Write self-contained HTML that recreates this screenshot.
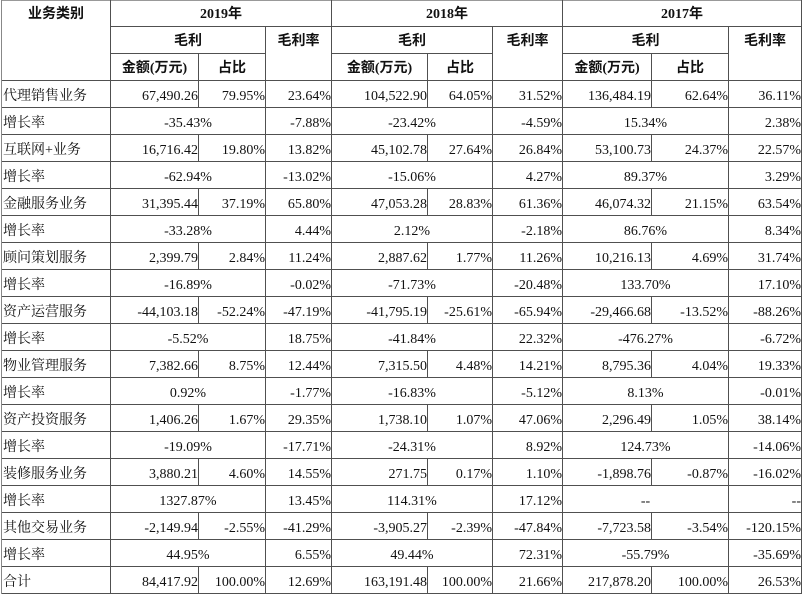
<!DOCTYPE html>
<html><head><meta charset="utf-8">
<style>
html,body{margin:0;padding:0;background:#fff;}
body{width:803px;height:594px;position:relative;overflow:hidden;font-family:"Liberation Serif","Noto Serif CJK SC",serif;font-size:14px;color:#111;}
.h{position:absolute;height:1px;background:#505050;}
.v{position:absolute;width:1px;background:#505050;}
.r{position:absolute;left:0;width:803px;height:26px;}
.r div{position:absolute;top:0;height:26px;line-height:31px;white-space:nowrap;text-align:right;}
.r .l{left:3px;width:105px;text-align:left;}
.r .c1{left:111px;width:87px;}
.r .c2{left:199px;width:66px;}
.r .c3{left:266px;width:65px;}
.r .c4{left:332px;width:95px;}
.r .c5{left:428px;width:64px;}
.r .c6{left:493px;width:69px;}
.r .c7{left:563px;width:88px;}
.r .c8{left:652px;width:76px;}
.r .c9{left:729px;width:72px;}
.r .g1{left:111px;width:154px;text-align:center;background:#fff;}
.r .g2{left:332px;width:160px;text-align:center;background:#fff;}
.r .g3{left:563px;width:165px;text-align:center;background:#fff;}
.hd{position:absolute;text-align:center;font-weight:700;font-family:"Liberation Serif","Noto Sans CJK SC",sans-serif;font-size:14px;line-height:30px;height:26px;white-space:nowrap;color:#111;}
</style></head><body>

<div class="h" style="top:0;left:1px;width:801px;background:#999"></div>
<div class="h" style="top:26px;left:110px;width:692px"></div>
<div class="h" style="top:53px;left:110px;width:156px"></div>
<div class="h" style="top:53px;left:331px;width:162px"></div>
<div class="h" style="top:53px;left:562px;width:167px"></div>
<div class="h" style="top:80px;left:1px;width:801px"></div>
<div class="h" style="top:107px;left:1px;width:801px"></div>
<div class="h" style="top:134px;left:1px;width:801px"></div>
<div class="h" style="top:161px;left:1px;width:801px"></div>
<div class="h" style="top:188px;left:1px;width:801px"></div>
<div class="h" style="top:215px;left:1px;width:801px"></div>
<div class="h" style="top:242px;left:1px;width:801px"></div>
<div class="h" style="top:269px;left:1px;width:801px"></div>
<div class="h" style="top:296px;left:1px;width:801px"></div>
<div class="h" style="top:323px;left:1px;width:801px"></div>
<div class="h" style="top:350px;left:1px;width:801px"></div>
<div class="h" style="top:377px;left:1px;width:801px"></div>
<div class="h" style="top:404px;left:1px;width:801px"></div>
<div class="h" style="top:431px;left:1px;width:801px"></div>
<div class="h" style="top:458px;left:1px;width:801px"></div>
<div class="h" style="top:485px;left:1px;width:801px"></div>
<div class="h" style="top:512px;left:1px;width:801px"></div>
<div class="h" style="top:539px;left:1px;width:801px"></div>
<div class="h" style="top:566px;left:1px;width:801px"></div>
<div class="h" style="top:593px;left:1px;width:801px"></div>

<div class="v" style="left:1px;top:0;height:594px;background:#888"></div>
<div class="v" style="left:110px;top:0;height:594px"></div>
<div class="v" style="left:198px;top:53px;height:541px"></div>
<div class="v" style="left:265px;top:26px;height:568px"></div>
<div class="v" style="left:331px;top:0;height:594px"></div>
<div class="v" style="left:427px;top:53px;height:541px"></div>
<div class="v" style="left:492px;top:26px;height:568px"></div>
<div class="v" style="left:562px;top:0;height:594px"></div>
<div class="v" style="left:651px;top:53px;height:541px"></div>
<div class="v" style="left:728px;top:26px;height:568px"></div>
<div class="v" style="left:801px;top:0;height:594px"></div>

<div class="hd" style="left:2px;top:0;width:108px">业务类别</div>
<div class="hd" style="left:111px;top:0;width:220px">2019年</div>
<div class="hd" style="left:332px;top:0;width:230px">2018年</div>
<div class="hd" style="left:563px;top:0;width:238px">2017年</div>

<div class="hd" style="left:111px;top:27px;width:154px">毛利</div>
<div class="hd" style="left:266px;top:27px;width:65px">毛利率</div>
<div class="hd" style="left:332px;top:27px;width:160px">毛利</div>
<div class="hd" style="left:493px;top:27px;width:69px">毛利率</div>
<div class="hd" style="left:563px;top:27px;width:165px">毛利</div>
<div class="hd" style="left:729px;top:27px;width:72px">毛利率</div>

<div class="hd" style="left:111px;top:54px;width:87px">金额(万元)</div>
<div class="hd" style="left:199px;top:54px;width:66px">占比</div>
<div class="hd" style="left:332px;top:54px;width:95px">金额(万元)</div>
<div class="hd" style="left:428px;top:54px;width:64px">占比</div>
<div class="hd" style="left:563px;top:54px;width:88px">金额(万元)</div>
<div class="hd" style="left:652px;top:54px;width:76px">占比</div>

<div class="r" style="top:81px"><div class="l">代理销售业务</div><div class="c1">67,490.26</div><div class="c2">79.95%</div><div class="c3">23.64%</div><div class="c4">104,522.90</div><div class="c5">64.05%</div><div class="c6">31.52%</div><div class="c7">136,484.19</div><div class="c8">62.64%</div><div class="c9">36.11%</div></div>
<div class="r" style="top:108px"><div class="l">增长率</div><div class="g1">-35.43%</div><div class="c3">-7.88%</div><div class="g2">-23.42%</div><div class="c6">-4.59%</div><div class="g3">15.34%</div><div class="c9">2.38%</div></div>

<div class="r" style="top:135px"><div class="l">互联网+业务</div><div class="c1">16,716.42</div><div class="c2">19.80%</div><div class="c3">13.82%</div><div class="c4">45,102.78</div><div class="c5">27.64%</div><div class="c6">26.84%</div><div class="c7">53,100.73</div><div class="c8">24.37%</div><div class="c9">22.57%</div></div>
<div class="r" style="top:162px"><div class="l">增长率</div><div class="g1">-62.94%</div><div class="c3">-13.02%</div><div class="g2">-15.06%</div><div class="c6">4.27%</div><div class="g3">89.37%</div><div class="c9">3.29%</div></div>

<div class="r" style="top:189px"><div class="l">金融服务业务</div><div class="c1">31,395.44</div><div class="c2">37.19%</div><div class="c3">65.80%</div><div class="c4">47,053.28</div><div class="c5">28.83%</div><div class="c6">61.36%</div><div class="c7">46,074.32</div><div class="c8">21.15%</div><div class="c9">63.54%</div></div>
<div class="r" style="top:216px"><div class="l">增长率</div><div class="g1">-33.28%</div><div class="c3">4.44%</div><div class="g2">2.12%</div><div class="c6">-2.18%</div><div class="g3">86.76%</div><div class="c9">8.34%</div></div>

<div class="r" style="top:243px"><div class="l">顾问策划服务</div><div class="c1">2,399.79</div><div class="c2">2.84%</div><div class="c3">11.24%</div><div class="c4">2,887.62</div><div class="c5">1.77%</div><div class="c6">11.26%</div><div class="c7">10,216.13</div><div class="c8">4.69%</div><div class="c9">31.74%</div></div>
<div class="r" style="top:270px"><div class="l">增长率</div><div class="g1">-16.89%</div><div class="c3">-0.02%</div><div class="g2">-71.73%</div><div class="c6">-20.48%</div><div class="g3">133.70%</div><div class="c9">17.10%</div></div>

<div class="r" style="top:297px"><div class="l">资产运营服务</div><div class="c1">-44,103.18</div><div class="c2">-52.24%</div><div class="c3">-47.19%</div><div class="c4">-41,795.19</div><div class="c5">-25.61%</div><div class="c6">-65.94%</div><div class="c7">-29,466.68</div><div class="c8">-13.52%</div><div class="c9">-88.26%</div></div>
<div class="r" style="top:324px"><div class="l">增长率</div><div class="g1">-5.52%</div><div class="c3">18.75%</div><div class="g2">-41.84%</div><div class="c6">22.32%</div><div class="g3">-476.27%</div><div class="c9">-6.72%</div></div>

<div class="r" style="top:351px"><div class="l">物业管理服务</div><div class="c1">7,382.66</div><div class="c2">8.75%</div><div class="c3">12.44%</div><div class="c4">7,315.50</div><div class="c5">4.48%</div><div class="c6">14.21%</div><div class="c7">8,795.36</div><div class="c8">4.04%</div><div class="c9">19.33%</div></div>
<div class="r" style="top:378px"><div class="l">增长率</div><div class="g1">0.92%</div><div class="c3">-1.77%</div><div class="g2">-16.83%</div><div class="c6">-5.12%</div><div class="g3">8.13%</div><div class="c9">-0.01%</div></div>

<div class="r" style="top:405px"><div class="l">资产投资服务</div><div class="c1">1,406.26</div><div class="c2">1.67%</div><div class="c3">29.35%</div><div class="c4">1,738.10</div><div class="c5">1.07%</div><div class="c6">47.06%</div><div class="c7">2,296.49</div><div class="c8">1.05%</div><div class="c9">38.14%</div></div>
<div class="r" style="top:432px"><div class="l">增长率</div><div class="g1">-19.09%</div><div class="c3">-17.71%</div><div class="g2">-24.31%</div><div class="c6">8.92%</div><div class="g3">124.73%</div><div class="c9">-14.06%</div></div>

<div class="r" style="top:459px"><div class="l">装修服务业务</div><div class="c1">3,880.21</div><div class="c2">4.60%</div><div class="c3">14.55%</div><div class="c4">271.75</div><div class="c5">0.17%</div><div class="c6">1.10%</div><div class="c7">-1,898.76</div><div class="c8">-0.87%</div><div class="c9">-16.02%</div></div>
<div class="r" style="top:486px"><div class="l">增长率</div><div class="g1">1327.87%</div><div class="c3">13.45%</div><div class="g2">114.31%</div><div class="c6">17.12%</div><div class="g3">--</div><div class="c9">--</div></div>

<div class="r" style="top:513px"><div class="l">其他交易业务</div><div class="c1">-2,149.94</div><div class="c2">-2.55%</div><div class="c3">-41.29%</div><div class="c4">-3,905.27</div><div class="c5">-2.39%</div><div class="c6">-47.84%</div><div class="c7">-7,723.58</div><div class="c8">-3.54%</div><div class="c9">-120.15%</div></div>
<div class="r" style="top:540px"><div class="l">增长率</div><div class="g1">44.95%</div><div class="c3">6.55%</div><div class="g2">49.44%</div><div class="c6">72.31%</div><div class="g3">-55.79%</div><div class="c9">-35.69%</div></div>

<div class="r" style="top:567px"><div class="l">合计</div><div class="c1">84,417.92</div><div class="c2">100.00%</div><div class="c3">12.69%</div><div class="c4">163,191.48</div><div class="c5">100.00%</div><div class="c6">21.66%</div><div class="c7">217,878.20</div><div class="c8">100.00%</div><div class="c9">26.53%</div></div>

</body></html>
